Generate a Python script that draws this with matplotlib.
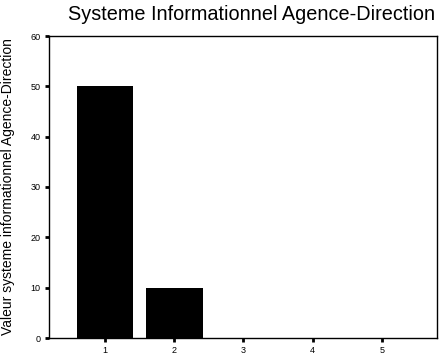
import matplotlib
matplotlib.use("Agg")
import matplotlib.pyplot as plt

categories = [1, 2, 3, 4, 5]
values = [50, 10, 0, 0, 0]
y_ticks = [0, 10, 20, 30, 40, 50, 60]

plt.rcParams["font.family"] = ["Liberation Sans", "DejaVu Sans"]

fig = plt.figure(figsize=(4.42, 3.59), dpi=100)
ax = fig.add_axes([49 / 442, 1 - 338 / 359, (437 - 49) / 442, (338 - 36) / 359])

ax.bar(categories, values, width=0.82, color="black")
ax.set_xlim(0.19, 5.8)
ax.set_ylim(0, 60)
ax.set_xticks(categories)
ax.set_yticks(y_ticks)
ax.tick_params(axis="both", direction="out", length=3, width=2, labelsize=6.5, pad=3)

for s in ax.spines.values():
    s.set_linewidth(1)
    s.set_color("black")

ax.set_ylabel("Valeur systeme informationnel Agence-Direction", fontsize=10, labelpad=11)
fig.text(252 / 442, 1 - 15 / 359, "Systeme Informationnel Agence-Direction",
         fontsize=14.3, ha="center", va="center")

fig.savefig("out.png", dpi=100)
